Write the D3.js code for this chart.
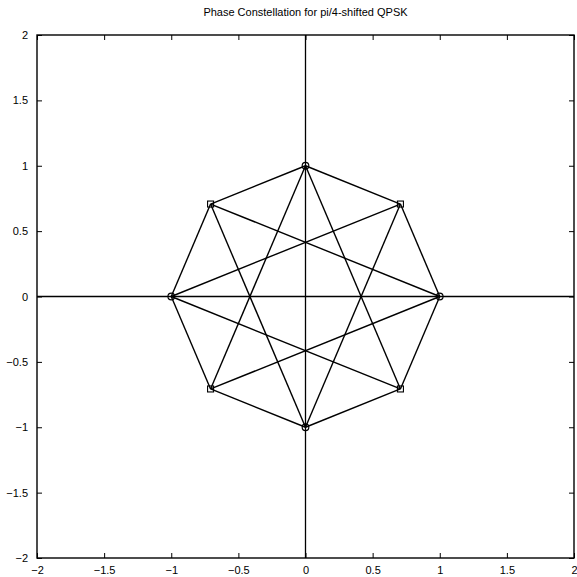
<!DOCTYPE html>
<html>
<head>
<meta charset="utf-8">
<script src="https://cdn.jsdelivr.net/npm/d3@7/dist/d3.min.js"></script>
<style>
  html, body { margin: 0; padding: 0; background: #fff; }
  svg { display: block; }
  text { font-family: "Liberation Sans", Arial, Helvetica, sans-serif; fill: #000; }
</style>
</head>
<body>
<svg id="chart" width="577" height="577"></svg>
<script>
// Constellation points of pi/4-shifted QPSK (unit circle, every 45 degrees)
const pointLabels = ["0", "45", "90", "135", "180", "225", "270", "315"];
const pointX = [1, 0.7071, 0, -0.7071, -1, -0.7071, 0, 0.7071];
const pointY = [0, 0.7071, 1, 0.7071, 0, -0.7071, -1, -0.7071];
// Marker per point: "o" for the 0/90/180/270 set, "s" for the shifted set
const pointMarker = ["o", "s", "o", "s", "o", "s", "o", "s"];
// Allowed transitions: index pairs (+-45 deg and +-135 deg phase changes)
const transitionFrom = [0, 1, 2, 3, 4, 5, 6, 7, 0, 1, 2, 3, 4, 5, 6, 7];
const transitionTo   = [1, 2, 3, 4, 5, 6, 7, 0, 3, 4, 5, 6, 7, 0, 1, 2];
const xTicks = [-2, -1.5, -1, -0.5, 0, 0.5, 1, 1.5, 2];
const yTicks = [-2, -1.5, -1, -0.5, 0, 0.5, 1, 1.5, 2];
const titleText = "Phase Constellation for pi/4-shifted QPSK";

const svg = d3.select("#chart");
const plotLeft = 37, plotRight = 574, plotTop = 35, plotBottom = 558;

const x = d3.scaleLinear().domain([-2, 2]).range([plotLeft, plotRight]);
const y = d3.scaleLinear().domain([-2, 2]).range([plotBottom, plotTop]);

const fmt = d => String(d).replace("-", "\u2212");

// Frame ticks pointing inward on all four sides
svg.append("g").attr("transform", `translate(0,${plotBottom})`)
  .call(d3.axisBottom(x).tickValues(xTicks).tickSize(-5).tickPadding(8).tickFormat(fmt))
  .call(g => g.select(".domain").remove());
svg.append("g").attr("transform", `translate(0,${plotTop})`)
  .call(d3.axisTop(x).tickValues(xTicks).tickSize(-5).tickFormat(""))
  .call(g => g.select(".domain").remove());
svg.append("g").attr("transform", `translate(${plotLeft},0)`)
  .call(d3.axisLeft(y).tickValues(yTicks).tickSize(-5).tickPadding(9).tickFormat(fmt))
  .call(g => g.select(".domain").remove());
svg.append("g").attr("transform", `translate(${plotRight},0)`)
  .call(d3.axisRight(y).tickValues(yTicks).tickSize(-5).tickFormat(""))
  .call(g => g.select(".domain").remove());

svg.selectAll(".tick line").attr("stroke", "#000").attr("stroke-width", 1);
svg.selectAll(".tick text").style("font-size", "11px").attr("fill", "#000");

// Plot box
svg.append("rect")
  .attr("x", plotLeft).attr("y", plotTop)
  .attr("width", plotRight - plotLeft).attr("height", plotBottom - plotTop)
  .attr("fill", "none").attr("stroke", "#000").attr("stroke-width", 1.4);

// Real and imaginary axes through the origin
svg.append("line")
  .attr("x1", x(-2)).attr("x2", x(2)).attr("y1", y(0)).attr("y2", y(0))
  .attr("stroke", "#000").attr("stroke-width", 1.3);
svg.append("line")
  .attr("x1", x(0)).attr("x2", x(0)).attr("y1", y(-2)).attr("y2", y(2))
  .attr("stroke", "#000").attr("stroke-width", 1.3);

// Phase transitions
svg.append("g").selectAll("line")
  .data(transitionFrom.map((f, i) => [f, transitionTo[i]]))
  .join("line")
  .attr("x1", d => x(pointX[d[0]])).attr("y1", d => y(pointY[d[0]]))
  .attr("x2", d => x(pointX[d[1]])).attr("y2", d => y(pointY[d[1]]))
  .attr("stroke", "#000").attr("stroke-width", 1.4);

// Constellation markers
const pts = pointX.map((px, i) => ({ x: px, y: pointY[i], m: pointMarker[i], id: pointLabels[i] }));
svg.append("g").selectAll("circle")
  .data(pts.filter(d => d.m === "o"))
  .join("circle")
  .attr("cx", d => x(d.x)).attr("cy", d => y(d.y)).attr("r", 3.3)
  .attr("fill", "none").attr("stroke", "#000").attr("stroke-width", 1.2);
svg.append("g").selectAll("rect")
  .data(pts.filter(d => d.m === "s"))
  .join("rect")
  .attr("x", d => x(d.x) - 3).attr("y", d => y(d.y) - 3)
  .attr("width", 6).attr("height", 6)
  .attr("fill", "none").attr("stroke", "#000").attr("stroke-width", 1.1);

// Title
svg.append("text")
  .attr("x", (plotLeft + plotRight) / 2).attr("y", 16)
  .attr("text-anchor", "middle")
  .style("font-size", "11px")
  .text(titleText);
</script>
</body>
</html>
